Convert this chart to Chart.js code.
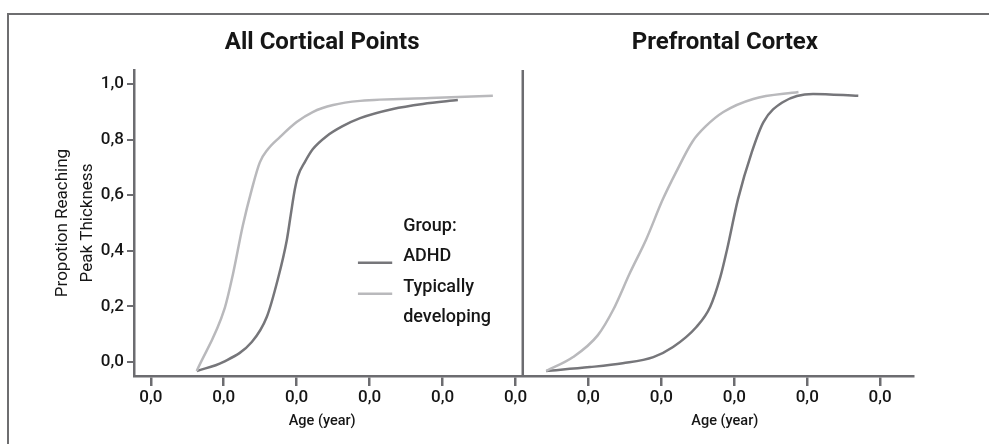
<!DOCTYPE html>
<html>
<head>
<meta charset="utf-8">
<script src="https://cdn.jsdelivr.net/npm/chart.js@4.4.0/dist/chart.umd.min.js"></script>
<style>
  html, body { margin: 0; padding: 0; background: #fff; }
  #wrap { position: relative; width: 989px; height: 444px; overflow: hidden; }
  #frame { position: absolute; left: 7px; top: 13px; right: -4px; bottom: -4px;
           border-top: 2px solid #6e6e70; border-left: 2px solid #6e6e70; }
  canvas { position: absolute; left: 0; top: 0; }
</style>
</head>
<body>
<div id="wrap">
  <div id="frame"></div>
  <canvas id="chart" width="989" height="444"></canvas>
</div>
<script>
  // ticks and labels
  const xTicks = [0, 1, 2, 3, 4, 5, 6, 7, 8, 9, 10];
  const xTickText = "0,0";
  const yTicks = [0, 0.2, 0.4, 0.6, 0.8, 1.0];
  const panelTitles = ["All Cortical Points", "Prefrontal Cortex"];
  const xAxisTitle = "Age (year)";
  const yAxisTitle = ["Propotion Reaching", "Peak Thickness"];
  const legendTitle = "Group:";
  const groupNames = ["ADHD", "Typically", "developing"];

  // All cortical points
  const cortAdhdAge  = [0.63, 0.99, 1.385, 1.59, 1.74, 1.866, 1.92, 1.975, 2.016, 2.11, 2.22, 2.41, 2.63, 2.87, 3.32, 3.73, 4.21];
  const cortAdhdProp = [-0.032, 0.0, 0.072, 0.162, 0.296, 0.44, 0.531, 0.621, 0.668, 0.718, 0.765, 0.812, 0.848, 0.877, 0.910, 0.928, 0.942];
  const cortTdAge    = [0.63, 1.015, 1.125, 1.262, 1.385, 1.495, 1.605, 1.77, 2.0, 2.22, 2.5, 2.87, 3.83, 4.69];
  const cortTdProp   = [-0.032, 0.195, 0.314, 0.491, 0.621, 0.718, 0.765, 0.809, 0.863, 0.899, 0.924, 0.939, 0.949, 0.957];

  // Prefrontal cortex
  const pfcAdhdAge   = [5.42, 6.02, 6.47, 6.89, 7.16, 7.48, 7.67, 7.81, 7.90, 8.05, 8.24, 8.40, 8.67, 9.08, 9.70];
  const pfcAdhdProp  = [-0.032, -0.018, -0.004, 0.018, 0.054, 0.126, 0.199, 0.307, 0.404, 0.585, 0.755, 0.863, 0.935, 0.964, 0.957];
  const pfcTdAge     = [5.42, 5.79, 6.13, 6.34, 6.57, 6.79, 7.02, 7.20, 7.43, 7.61, 7.85, 8.26, 8.88];
  const pfcTdProp    = [-0.032, 0.018, 0.097, 0.188, 0.321, 0.44, 0.585, 0.682, 0.794, 0.848, 0.899, 0.946, 0.971];

  const panelSplit = 5.1;
  const panelCenters = [2.35, 7.87];

  const adhdColor = "#76767a";
  const tdColor = "#b9b9bc";
  const axisColor = "#6c6c70";
  const textColor = "#161616";
  const fontFamily = "Roboto, 'DejaVu Sans', sans-serif";

  function points(xs, ys) {
    return xs.map((v, i) => ({ x: v, y: ys[i] }));
  }

  function series(xs, ys, color) {
    return {
      data: points(xs, ys),
      borderColor: color,
      borderWidth: 2.5,
      pointRadius: 0,
      fill: false,
      cubicInterpolationMode: "monotone"
    };
  }

  // divider, panel titles, age labels and the legend inside the left panel
  const panelDeco = {
    id: "panelDeco",
    afterDraw(chart) {
      const { ctx, chartArea, scales: { x, y } } = chart;
      ctx.save();

      const xd = x.getPixelForValue(panelSplit);
      ctx.strokeStyle = axisColor;
      ctx.lineWidth = 2.5;
      ctx.beginPath();
      ctx.moveTo(xd, chartArea.top);
      ctx.lineTo(xd, chartArea.bottom);
      ctx.stroke();

      ctx.fillStyle = textColor;
      ctx.textAlign = "center";
      ctx.textBaseline = "middle";
      panelCenters.forEach((c, i) => {
        const px = x.getPixelForValue(c);
        ctx.font = "bold 24px " + fontFamily;
        ctx.fillText(panelTitles[i], px, 43);
        ctx.font = "500 14.5px " + fontFamily;
        ctx.fillText(xAxisTitle, px, 421);
      });

      // legend
      const tx = x.getPixelForValue(3.46);
      const lx0 = x.getPixelForValue(2.84);
      const lx1 = x.getPixelForValue(3.31);
      const rows = [0.487, 0.379, 0.267, 0.162].map(v => y.getPixelForValue(v));
      ctx.textAlign = "left";
      ctx.font = "500 18px " + fontFamily;
      ctx.fillText(legendTitle, tx, rows[0]);
      groupNames.forEach((g, i) => ctx.fillText(g, tx, rows[i + 1]));
      [adhdColor, tdColor].forEach((col, i) => {
        ctx.strokeStyle = col;
        ctx.lineWidth = 2.5;
        ctx.beginPath();
        ctx.moveTo(lx0, rows[i + 1] + 6);
        ctx.lineTo(lx1, rows[i + 1] + 6);
        ctx.stroke();
      });

      ctx.restore();
    }
  };

  new Chart(document.getElementById("chart"), {
    type: "line",
    data: {
      datasets: [
        series(cortTdAge, cortTdProp, tdColor),
        series(cortAdhdAge, cortAdhdProp, adhdColor),
        series(pfcTdAge, pfcTdProp, tdColor),
        series(pfcAdhdAge, pfcAdhdProp, adhdColor)
      ]
    },
    options: {
      responsive: false,
      animation: false,
      layout: { padding: { top: 70, right: 76, left: 0, bottom: 0 } },
      plugins: { legend: { display: false }, tooltip: { enabled: false }, title: { display: false } },
      scales: {
        x: {
          type: "linear",
          min: -0.23,
          max: 10.45,
          afterBuildTicks: s => { s.ticks = xTicks.map(v => ({ value: v })); },
          afterFit: s => { s.height = 68; },
          grid: { drawOnChartArea: false, color: axisColor, lineWidth: 2.5, tickLength: 10 },
          border: { color: axisColor, width: 2.5 },
          ticks: {
            padding: 2,
            color: textColor,
            font: { family: fontFamily, size: 17, weight: "500" },
            callback: () => xTickText
          }
        },
        y: {
          min: -0.05,
          max: 1.05,
          afterBuildTicks: s => { s.ticks = yTicks.map(v => ({ value: v })); },
          afterFit: s => { s.width = 134; },
          grid: { drawOnChartArea: false, color: axisColor, lineWidth: 2, tickLength: 7 },
          border: { color: axisColor, width: 2.5 },
          title: {
            display: true,
            text: yAxisTitle,
            color: textColor,
            font: { family: fontFamily, size: 17, lineHeight: 1.47 },
            padding: { top: 50, bottom: 0 }
          },
          ticks: {
            padding: 3,
            color: textColor,
            font: { family: fontFamily, size: 17, weight: "500" },
            callback: v => v.toFixed(1).replace(".", ",")
          }
        }
      }
    },
    plugins: [panelDeco]
  });
</script>
</body>
</html>
